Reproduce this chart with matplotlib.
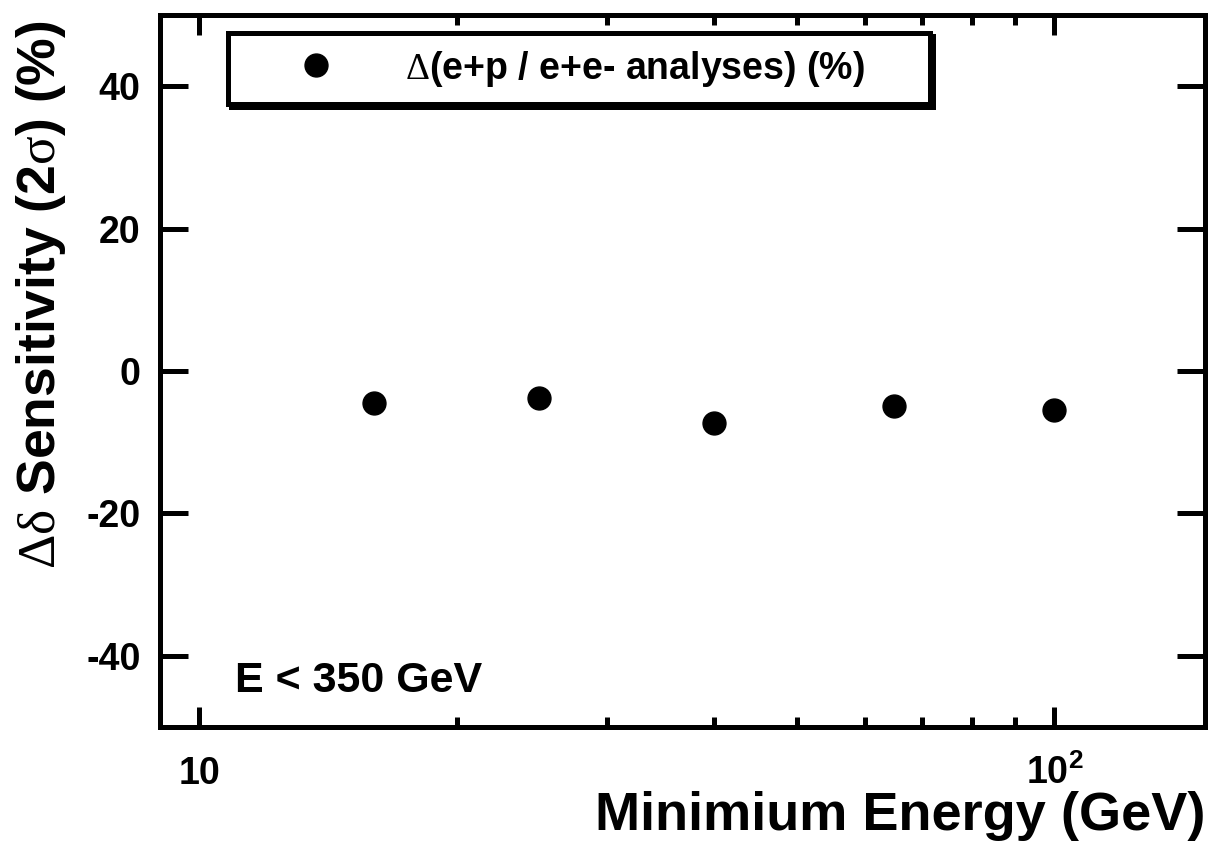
"""Delta sensitivity of e+p vs e+e- analyses as a function of minimum energy."""

import matplotlib

matplotlib.use("Agg")
import matplotlib.pyplot as plt
from matplotlib.ticker import FixedLocator, NullFormatter

plt.rcParams["font.family"] = ["Liberation Sans", "DejaVu Sans"]
plt.rcParams["font.weight"] = "bold"
plt.rcParams["axes.labelweight"] = "bold"
plt.rcParams["axes.unicode_minus"] = False
plt.rcParams["mathtext.fontset"] = "custom"
plt.rcParams["mathtext.rm"] = "Liberation Serif:weight=normal:style=normal"
plt.rcParams["mathtext.bf"] = "Liberation Sans:weight=bold"

# ---------------------------------------------------------------------------
# Data
# ---------------------------------------------------------------------------

min_energy = [16, 25, 40, 65, 100]             # GeV
delta_sens = [-4.5, -3.75, -7.3, -4.9, -5.5]   # %

series_label = r"$\mathrm{\Delta}$(e+p / e+e- analyses) (%)"
x_label = "Minimium Energy (GeV)"
y_label = r"$\mathrm{\Delta\delta}$ Sensitivity (2$\mathrm{\sigma}$) (%)"
note = "E < 350 GeV"

x_ticks = [10, 100]
x_tick_labels = ["10", r"$\mathbf{10^{2}}$"]
x_minor = [20, 30, 40, 50, 60, 70, 80, 90]
y_ticks = [-40, -20, 0, 20, 40]

# ---------------------------------------------------------------------------
# Figure
# ---------------------------------------------------------------------------

fig = plt.figure(figsize=(12.1, 8.43), dpi=100)
ax = fig.add_axes([0.1322, 0.1376, 0.8637, 0.8446])

ax.plot(min_energy, delta_sens, linestyle="none", marker="o",
        markersize=16.5, color="black", label=series_label)

ax.set_xscale("log")
ax.set_xlim(9, 150)
ax.set_ylim(-50, 50)

ax.xaxis.set_major_locator(FixedLocator(x_ticks))
ax.set_xticklabels(x_tick_labels)
ax.xaxis.set_minor_locator(FixedLocator(x_minor))
ax.xaxis.set_minor_formatter(NullFormatter())
ax.set_yticks(y_ticks)

for side in ax.spines.values():
    side.set_linewidth(3.6)

ax.tick_params(axis="both", which="both", direction="in",
               top=True, right=True, width=3.6, labelsize=27)
ax.tick_params(axis="x", which="major", length=14.4, pad=41)
ax.tick_params(axis="x", which="minor", length=7.2)
ax.tick_params(axis="y", which="major", length=20, pad=14)
for lab in ax.get_xticklabels():
    lab.set_verticalalignment("baseline")

ax.set_xlabel(x_label, fontsize=39, loc="right")
ax.xaxis.set_label_coords(1.0, -0.09)
ax.set_ylabel(y_label, fontsize=38.5, loc="top")
ax.yaxis.set_label_coords(-0.088, 0.993)

ax.text(0.0718, 0.049, note, transform=ax.transAxes, fontsize=31,
        ha="left", va="baseline")

leg = ax.legend(loc="upper left", bbox_to_anchor=(0.065, 0.869, 0.672, 0.106),
                mode="expand", borderaxespad=0, fontsize=27, numpoints=1,
                fancybox=False, framealpha=1, edgecolor="black",
                borderpad=0.42, handlelength=3.84, handletextpad=0.45,
                shadow={"color": "black", "alpha": 1})
leg.get_frame().set_linewidth(3.6)

fig.savefig("out.png", dpi=100)
